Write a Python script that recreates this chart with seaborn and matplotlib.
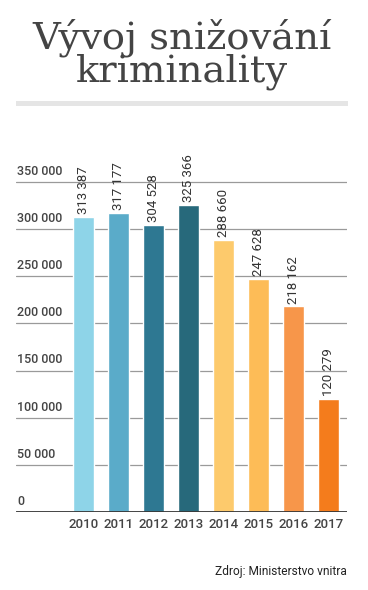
import matplotlib
matplotlib.use("Agg")
import matplotlib.pyplot as plt
import seaborn as sns
import pandas as pd

years = ["2010", "2011", "2012", "2013", "2014", "2015", "2016", "2017"]
crimes = [313387, 317177, 304528, 325366, 288660, 247628, 218162, 120279]
bar_colors = ["#8ed4e8", "#5aabc9", "#2e7892", "#27697b",
              "#fdca6c", "#fdbc57", "#f7964a", "#f47c1c"]
y_ticks = [0, 50000, 100000, 150000, 200000, 250000, 300000, 350000]

title = "Vývoj snižování\nkriminality"
source = "Zdroj: Ministerstvo vnitra"


def fmt(v):
    return f"{v:,}".replace(",", " ")


sns.set_theme(style="white")
plt.rcParams["font.family"] = ["Roboto", "DejaVu Sans"]

df = pd.DataFrame({"year": years, "crimes": crimes})

W, H = 368, 590
fig = plt.figure(figsize=(W / 100, H / 100), dpi=100)
fig.patch.set_facecolor("white")

# plot area in pixel coords
left, right, top, bottom = 16, 347, 140, 512
ax = fig.add_axes([left / W, 1 - bottom / H, (right - left) / W, (bottom - top) / H])

sns.barplot(data=df, x="year", y="crimes", hue="year", palette=bar_colors,
            width=0.6, legend=False, ax=ax, saturation=1)

ymax = 350000 + (182 - top) / ((bottom - 182) / 350000)
ax.set_ylim(0, ymax)
ax.set_xlim(-1.93, 7.53)

for t in y_ticks[1:]:
    ax.axhline(t, color="#9a9a9a", lw=0.9, zorder=0)
ax.axhline(0, color="#333333", lw=2, zorder=3)

for t in y_ticks:
    ax.annotate(fmt(t), xy=(0, t), xycoords=("axes fraction", "data"),
                xytext=(1, 3), textcoords="offset points",
                ha="left", va="bottom", fontsize=9, color="#444444",
                fontweight="medium")

for i, v in enumerate(crimes):
    ax.annotate(fmt(v), xy=(i, v), xytext=(0, 2), textcoords="offset points",
                rotation=90, ha="center", va="bottom", fontsize=9.5,
                color="#333333")

sns.despine(ax=ax, left=True, bottom=True)
ax.set_yticks([])
ax.set_xlabel("")
ax.set_ylabel("")
ax.tick_params(axis="x", length=0, pad=4, labelsize=9.5, labelcolor="#444444")
for lab in ax.get_xticklabels():
    lab.set_fontweight("medium")

# title
fig.text(182 / W, 1 - 82 / H, title, ha="center", va="baseline",
         multialignment="center", linespacing=0.88,
         family="DejaVu Serif", fontsize=27.7, color="#444444")

# separator bar
fig.add_artist(plt.Rectangle((16 / W, 1 - 106 / H), 332 / W, 5 / H,
                             transform=fig.transFigure, color="#e5e5e5", lw=0))

fig.text(347 / W, 1 - 572 / H, source, ha="right", va="center",
         fontsize=8.6, color="#222222")

fig.savefig("out.png", dpi=100, facecolor="white")
